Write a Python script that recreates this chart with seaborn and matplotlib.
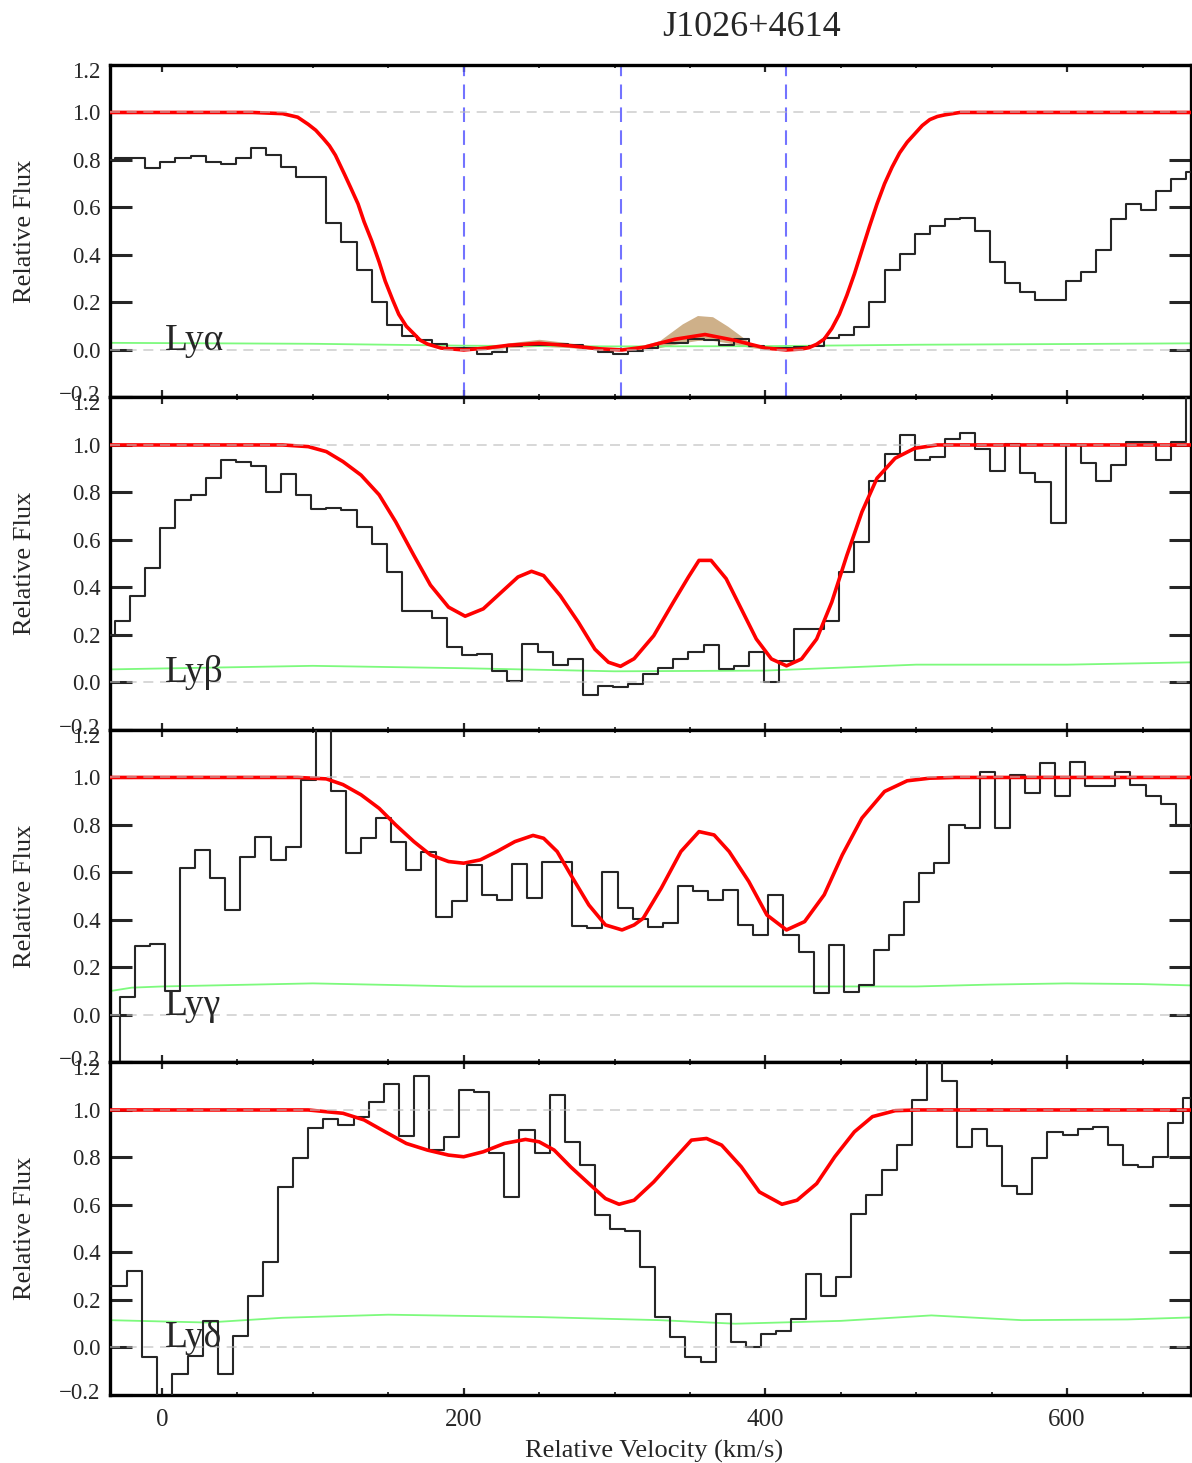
import numpy as np
import pandas as pd
import matplotlib
matplotlib.use("Agg")
import matplotlib.pyplot as plt
import matplotlib.transforms as mtransforms
import seaborn as sns

# ---------------- data ----------------
TITLE = "J1026+4614"
LINES = ["Lyα", "Lyβ", "Lyγ", "Lyδ"]

# velocity bin centres (km/s) of each spectrum (10 km/s pixels)
v_lya = np.arange(-36, 690, 10)
v_lyb = np.arange(-36, 690, 10)
v_lyg = np.arange(-33, 690, 10)
v_lyd = np.arange(-38, 690, 10)

flux_lya = [0.80, 0.81, 0.81, 0.765, 0.79, 0.81, 0.815, 0.79, 0.785, 0.81,
            0.85, 0.82, 0.77, 0.73, 0.73, 0.535, 0.455, 0.335, 0.20, 0.105,
            0.06, 0.04, 0.023, 0.01, 0.008, -0.015, -0.01, 0.015, 0.02, 0.02,
            0.025, 0.02, 0.01, -0.01, -0.017, -0.003, 0.01, 0.03, 0.03, 0.046,
            0.04, 0.02, 0.046, 0.018, 0.008, 0.01, 0.014, 0.018, 0.05, 0.065,
            0.096, 0.20, 0.335, 0.405, 0.49, 0.52, 0.55, 0.557, 0.50, 0.37,
            0.28, 0.243, 0.21, 0.21, 0.29, 0.33, 0.42, 0.553, 0.616, 0.59,
            0.668, 0.72, 0.75]
flux_lyb = [0.20, 0.26, 0.366, 0.48, 0.65, 0.77, 0.79, 0.86, 0.937, 0.93,
            0.91, 0.80, 0.876, 0.79, 0.73, 0.735, 0.725, 0.655, 0.585, 0.465,
            0.30, 0.30, 0.27, 0.148, 0.115, 0.12, 0.05, 0.007, 0.162, 0.127,
            0.073, 0.10, -0.053, -0.013, -0.017, -0.008, 0.035, 0.063, 0.099, 0.127,
            0.158, 0.056, 0.07, 0.127, 0.003, 0.09, 0.225, 0.225, 0.26, 0.465,
            0.59, 0.848, 0.96, 1.04, 0.937, 0.95, 1.025, 1.05, 0.983, 0.89,
            1.003, 0.88, 0.842, 0.67, 1.0, 0.922, 0.848, 0.915, 1.014, 1.014,
            0.937, 1.014, 1.25]
flux_lyg = [-0.30, 0.075, 0.29, 0.30, 0.10, 0.618, 0.695, 0.576, 0.442, 0.664,
            0.751, 0.653, 0.709, 0.99, 1.30, 0.944, 0.681, 0.744, 0.829, 0.73,
            0.611, 0.685, 0.414, 0.478, 0.632, 0.506, 0.485, 0.635, 0.494, 0.643,
            0.646, 0.376, 0.368, 0.602, 0.449, 0.405, 0.372, 0.386, 0.541, 0.52,
            0.485, 0.527, 0.379, 0.337, 0.506, 0.337, 0.267, 0.091, 0.295, 0.098,
            0.126, 0.274, 0.337, 0.475, 0.597, 0.639, 0.80, 0.787, 1.025, 0.787,
            1.011, 0.934, 1.06, 0.92, 1.067, 0.966, 0.966, 1.022, 0.969, 0.92,
            0.888, 0.80, 0.79]
flux_lyd = [0.26, 0.26, 0.321, -0.04, -0.25, -0.11, -0.035, 0.11, -0.11, 0.05,
            0.218, 0.359, 0.676, 0.796, 0.923, 0.96, 0.937, 0.972, 1.035, 1.11,
            0.89, 1.144, 0.831, 0.885, 1.085, 1.077, 0.817, 0.634, 0.915, 0.817,
            1.063, 0.866, 0.768, 0.556, 0.50, 0.49, 0.338, 0.13, 0.042, -0.042,
            -0.063, 0.141, 0.021, 0.0, 0.056, 0.068, 0.12, 0.31, 0.218, 0.296,
            0.563, 0.641, 0.746, 0.852, 1.042, 1.30, 1.12, 0.845, 0.918, 0.848,
            0.679, 0.645, 0.796, 0.908, 0.894, 0.918, 0.927, 0.852, 0.768, 0.761,
            0.803, 0.944, 1.05]

# fitted model profiles
mv_lya = [-35, 60, 80, 90, 97, 102, 107, 111, 115, 121, 125, 130, 134, 139, 144,
          148, 153, 157, 162, 167, 171, 176, 185, 200, 215, 230, 250, 270, 290,
          305, 320, 340, 360, 380, 400, 414, 424, 429, 434, 439, 444, 449, 454,
          459, 464, 469, 474, 479, 484, 489, 494, 499, 504, 509, 514, 519, 529,
          545, 685]
mf_lya = [1.0, 1.0, 0.995, 0.98, 0.95, 0.925, 0.89, 0.86, 0.82, 0.74, 0.685,
          0.615, 0.54, 0.46, 0.37, 0.29, 0.21, 0.15, 0.10, 0.068, 0.042, 0.025,
          0.008, 0.0, 0.008, 0.02, 0.028, 0.018, 0.005, 0.0, 0.012, 0.045, 0.065,
          0.04, 0.008, 0.0, 0.004, 0.01, 0.024, 0.046, 0.09, 0.15, 0.23, 0.32,
          0.42, 0.52, 0.615, 0.70, 0.77, 0.83, 0.875, 0.91, 0.945, 0.97, 0.983,
          0.99, 1.0, 1.0, 1.0]
mv_lyb = [-35, 70, 80, 97, 109, 120, 132, 144, 155, 167, 178, 190, 201, 213, 225,
          236, 245, 253, 264, 276, 287, 296, 304, 313, 326, 339, 349, 356, 364,
          374, 384, 394, 404, 414, 424, 434, 444, 454, 464, 474, 486, 499, 514,
          530, 685]
mf_lyb = [1.0, 1.0, 1.0, 0.993, 0.972, 0.93, 0.873, 0.79, 0.676, 0.535, 0.41,
          0.317, 0.279, 0.31, 0.38, 0.444, 0.468, 0.45, 0.366, 0.254, 0.14, 0.085,
          0.068, 0.10, 0.197, 0.338, 0.444, 0.514, 0.514, 0.437, 0.31, 0.183,
          0.099, 0.07, 0.099, 0.183, 0.338, 0.535, 0.718, 0.86, 0.944, 0.986,
          1.0, 1.0, 1.0]
mv_lyg = [-35, 90, 109, 120, 132, 144, 155, 167, 178, 190, 200, 211, 222, 234,
          246, 253, 262, 271, 283, 294, 305, 313, 319, 331, 344, 356, 366, 376,
          389, 401, 414, 426, 439, 451, 464, 479, 494, 509, 526, 685]
mf_lyg = [1.0, 1.0, 0.994, 0.97, 0.927, 0.87, 0.80, 0.73, 0.674, 0.646, 0.639,
          0.653, 0.688, 0.73, 0.756, 0.744, 0.688, 0.59, 0.463, 0.379, 0.358,
          0.379, 0.407, 0.534, 0.688, 0.772, 0.758, 0.688, 0.562, 0.421, 0.358,
          0.393, 0.506, 0.674, 0.829, 0.941, 0.986, 0.997, 1.0, 1.0]
mv_lyd = [-35, 97, 120, 134, 148, 162, 176, 190, 200, 213, 227, 241, 250, 260,
          271, 283, 294, 303, 313, 326, 339, 351, 361, 371, 384, 396, 411, 421,
          434, 446, 459, 471, 486, 501, 685]
mf_lyd = [1.0, 1.0, 0.986, 0.958, 0.908, 0.859, 0.831, 0.81, 0.803, 0.824, 0.859,
          0.876, 0.866, 0.831, 0.76, 0.69, 0.627, 0.603, 0.62, 0.697, 0.789,
          0.873, 0.88, 0.852, 0.761, 0.655, 0.603, 0.62, 0.69, 0.803, 0.908,
          0.972, 0.997, 1.0, 1.0]

# 1-sigma error spectra
ev_lya = [-35, 100, 200, 300, 400, 500, 600, 685]
ef_lya = [0.030, 0.026, 0.018, 0.015, 0.016, 0.022, 0.025, 0.028]
ev_lyb = [-35, 100, 200, 300, 400, 500, 600, 685]
ef_lyb = [0.055, 0.070, 0.060, 0.047, 0.050, 0.075, 0.075, 0.085]
ev_lyg = [-35, -20, 0, 100, 200, 300, 400, 500, 550, 600, 650, 685]
ef_lyg = [0.10, 0.115, 0.12, 0.133, 0.12, 0.12, 0.12, 0.12, 0.128, 0.133, 0.13, 0.124]
ev_lyd = [-35, 30, 80, 150, 250, 330, 380, 450, 510, 570, 640, 685]
ef_lyd = [0.115, 0.105, 0.125, 0.138, 0.128, 0.115, 0.10, 0.112, 0.135, 0.115, 0.118, 0.127]

# Lyα model uncertainty band
band_v = [210, 230, 250, 270, 290, 310, 330, 345, 355, 365, 375, 390, 405]
band_hi = [0.002, 0.03, 0.045, 0.03, 0.01, 0.005, 0.04, 0.11, 0.145, 0.14, 0.10, 0.03, 0.005]
band_lo = [0.0, 0.01, 0.015, 0.01, 0.0, 0.0, 0.01, 0.03, 0.04, 0.04, 0.03, 0.01, 0.0]

# component velocities (Lyα panel)
comp_v = [200, 304, 414]

ytick_vals = [-0.2, 0.0, 0.2, 0.4, 0.6, 0.8, 1.0, 1.2]
ytick_labels = ["−0.2", "0.0", "0.2", "0.4", "0.6", "0.8", "1.0", "1.2"]
xtick_vals = [0, 200, 400, 600]

spectra = [(v_lya, flux_lya), (v_lyb, flux_lyb), (v_lyg, flux_lyg), (v_lyd, flux_lyd)]
models = [(mv_lya, mf_lya), (mv_lyb, mf_lyb), (mv_lyg, mf_lyg), (mv_lyd, mf_lyd)]
errors = [(ev_lya, ef_lya), (ev_lyb, ef_lyb), (ev_lyg, ef_lyg), (ev_lyd, ef_lyd)]

# ---------------- style ----------------
sns.set_style("ticks")
serif = ["Liberation Serif", "DejaVu Serif"]
plt.rcParams["font.family"] = serif
plt.rcParams["axes.linewidth"] = 2.4

fig = plt.figure(figsize=(11.92, 14.63), dpi=100)
axes = fig.subplots(4, 1, sharex=True)
fig.subplots_adjust(left=0.0923, right=0.999, top=0.9556, bottom=0.0465, hspace=0)

for i, ax in enumerate(axes):
    sv, sf = spectra[i]
    mv, mf = models[i]
    ev, ef = errors[i]
    dspec = pd.DataFrame({"v": sv, "f": sf})
    dmod = pd.DataFrame({"v": mv, "f": mf})
    derr = pd.DataFrame({"v": ev, "f": ef})

    if i == 0:
        ax.fill_between(band_v, band_lo, band_hi, color="#c6a274", alpha=0.85,
                        lw=0, zorder=2)
        for cv in comp_v:
            ax.axvline(cv, color="#5b5bff", lw=1.5, dashes=(7, 4), alpha=0.85, zorder=1)

    sns.lineplot(data=derr, x="v", y="f", ax=ax, color="#7dfa7d", lw=1.3,
                 estimator=None, sort=False, legend=False, zorder=2)
    sns.lineplot(data=dspec, x="v", y="f", ax=ax, color="#262626", lw=1.5,
                 drawstyle="steps-mid", estimator=None, sort=False, legend=False, zorder=3)
    sns.lineplot(data=dmod, x="v", y="f", ax=ax, color="#ff0000", lw=2.6,
                 estimator=None, sort=False, legend=False, zorder=4)

    for yy in (0.0, 1.0):
        ax.axhline(yy, color="#bdbdbd", lw=1.2, dashes=(6, 4), alpha=0.7, zorder=5)

    ax.text(2, 0.0, LINES[i], fontsize=27, ha="left", va="baseline", zorder=6,
            family=serif)

    ax.set_xlim(-34.4, 682)
    ax.set_ylim(-0.2, 1.2)
    ax.set_yticks(ytick_vals)
    ax.set_yticklabels(ytick_labels)
    ax.set_xticks(xtick_vals)
    ax.set_xticks(np.arange(0, 700, 50), minor=True)
    ax.tick_params(axis="y", which="major", direction="in", length=16, width=2.2,
                   left=True, right=True, labelsize=16.5, pad=7)
    ax.tick_params(axis="y", which="minor", left=False, right=False)
    ax.tick_params(axis="x", which="major", direction="in", length=5, width=1.6,
                   top=True, bottom=True, labelsize=18, pad=10)
    ax.tick_params(axis="x", which="minor", direction="in", length=2.5, width=1.3,
                   top=True, bottom=True)
    ax.set_xlabel("")
    ax.set_ylabel("")
    for sp in ax.spines.values():
        sp.set_linewidth(2.4)
        sp.set_color("black")

    # nudge the end labels a little apart, as in the original
    labs = ax.get_yticklabels()
    up = mtransforms.ScaledTranslation(0, 4 / 100, fig.dpi_scale_trans)
    down = mtransforms.ScaledTranslation(0, -5 / 100, fig.dpi_scale_trans)
    labs[0].set_transform(labs[0].get_transform() + up)
    labs[-1].set_transform(labs[-1].get_transform() + down)

    fig.text(25 / 1192, 1 - ((65 + 332.5 * i + 166) / 1463), "Relative Flux",
             rotation=90, ha="center", va="center", fontsize=19, family=serif)

fig.text(751.7 / 1192, 1 - 28 / 1463, TITLE, ha="center", va="center",
         fontsize=26, family=serif)
fig.text(654 / 1192, 1 - 1451 / 1463, "Relative Velocity (km/s)", ha="center",
         va="center", fontsize=19, family=serif)

fig.savefig("out.png", dpi=100)
